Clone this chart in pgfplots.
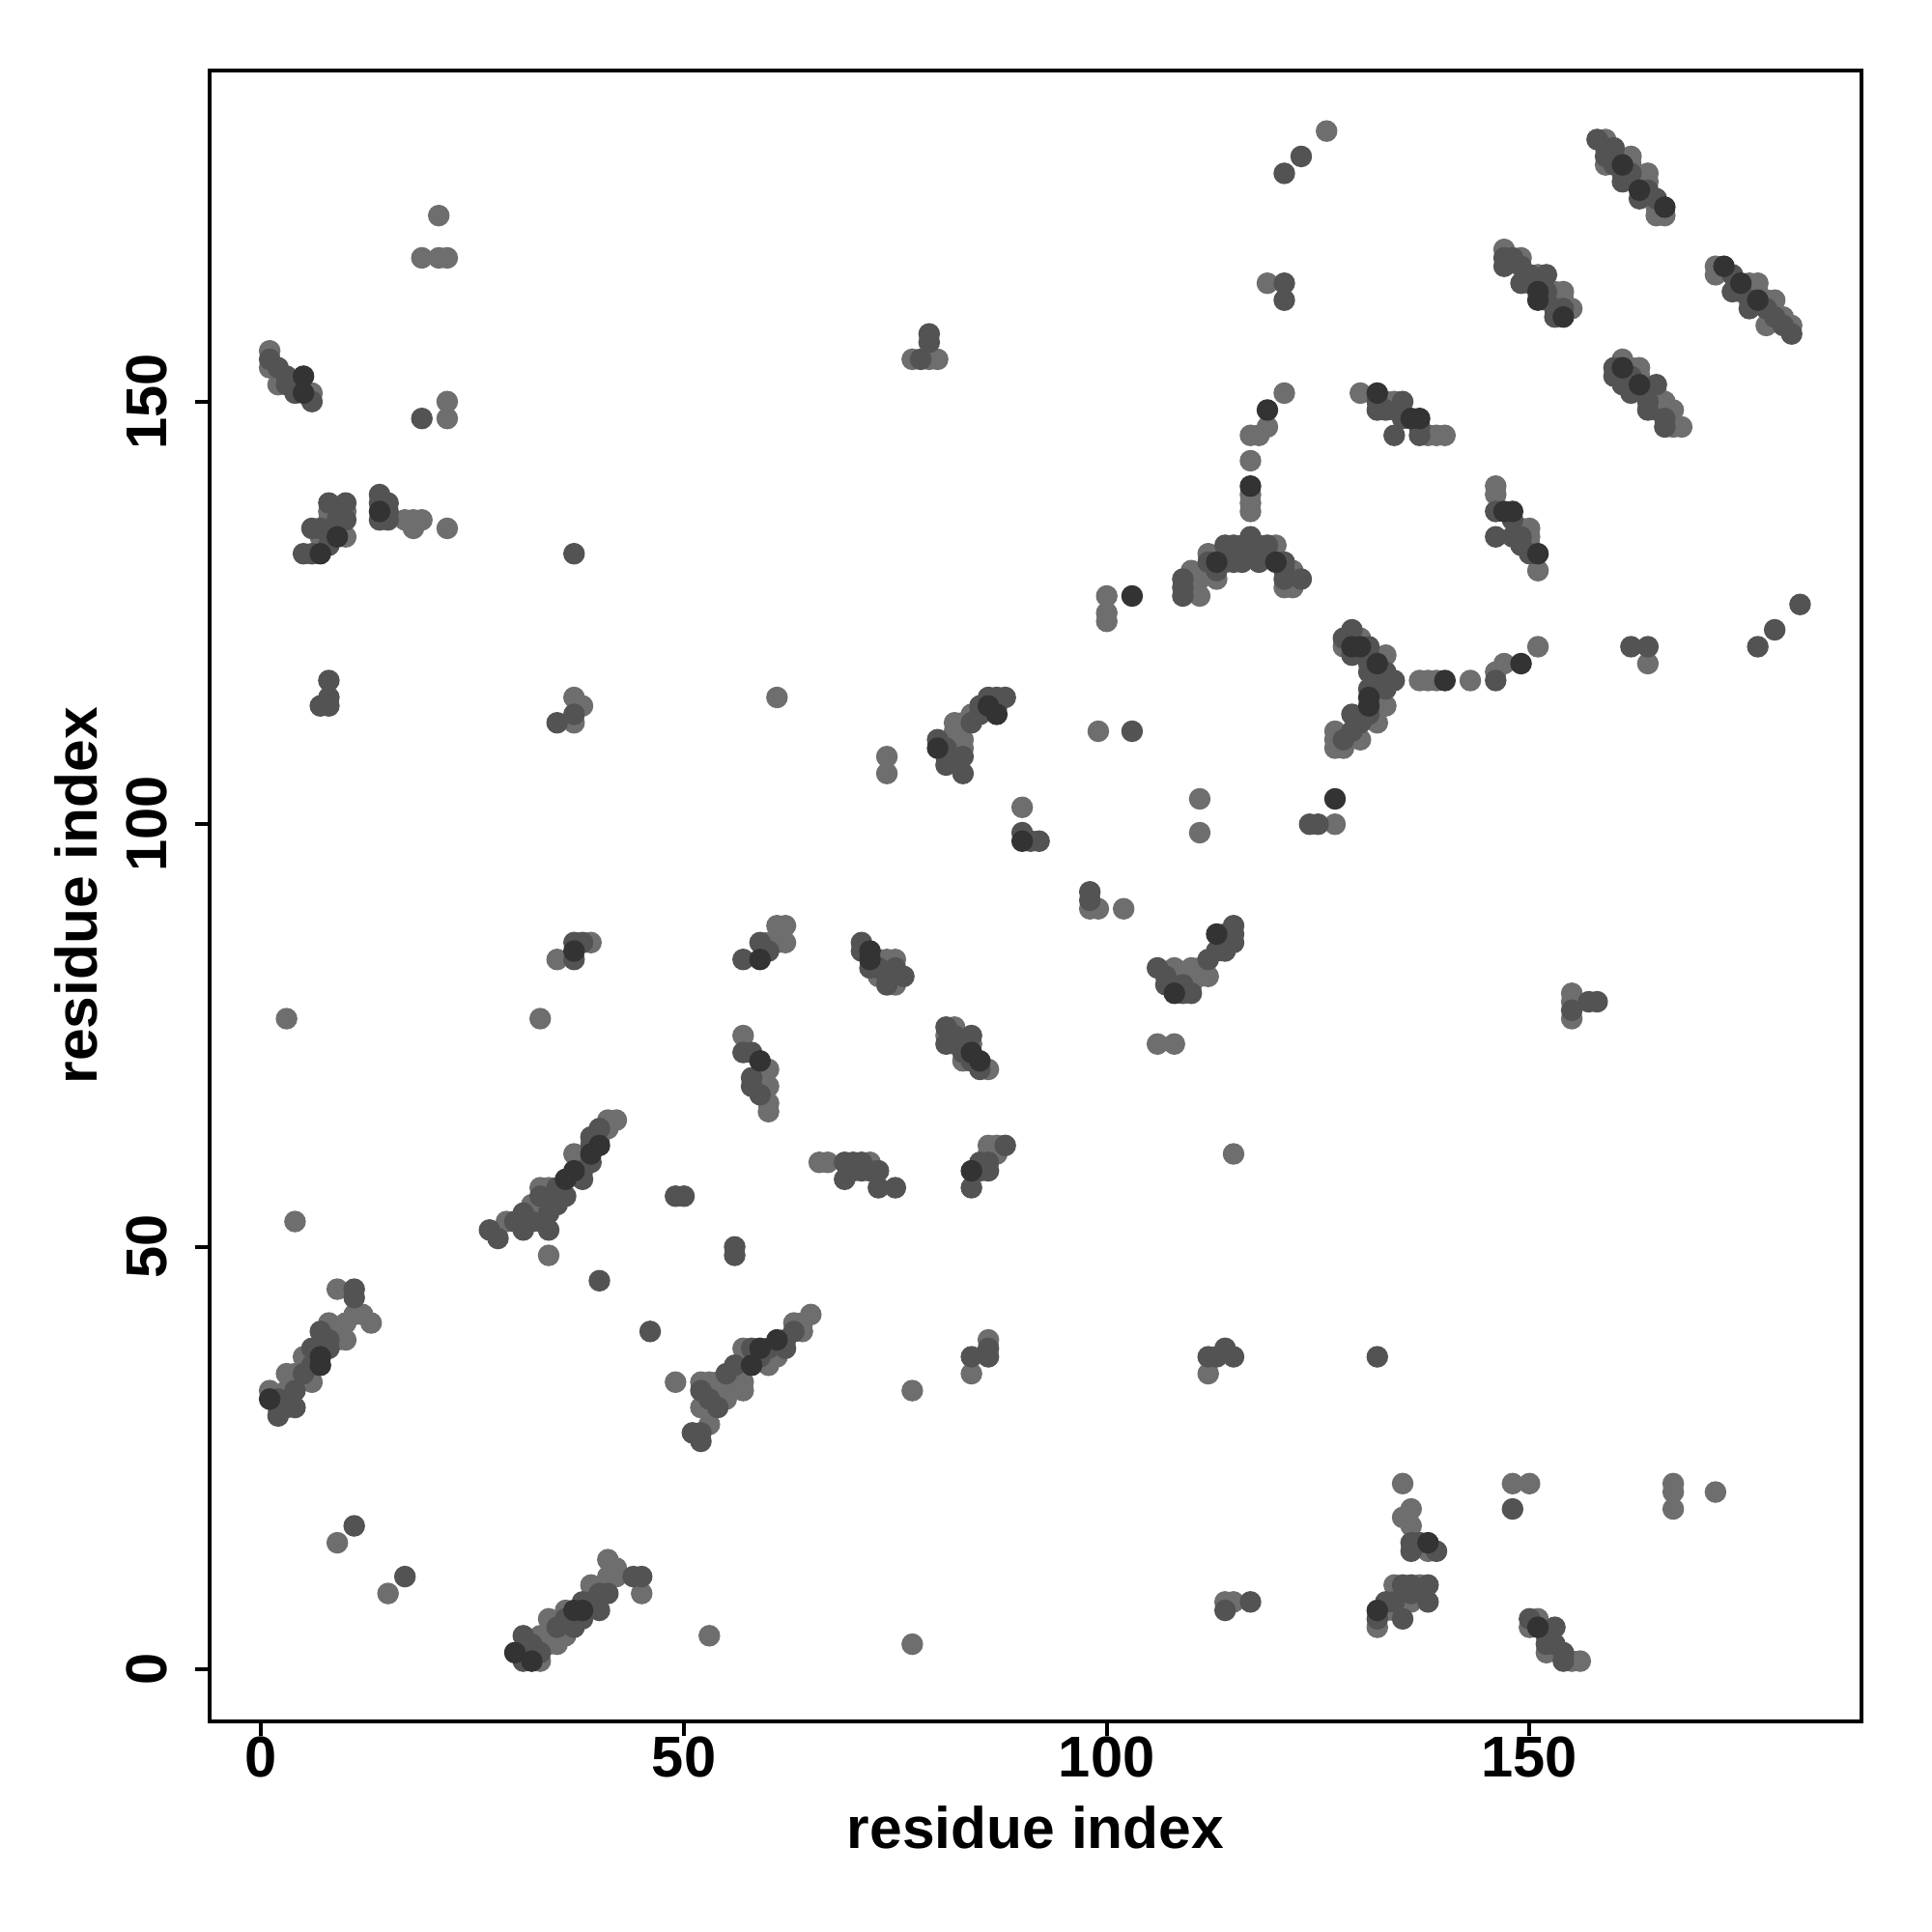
\documentclass[border=0pt]{standalone}
\usepackage{pgfplots}
\pgfplotsset{compat=1.18}
\usepackage{fontspec}
\setmainfont{Liberation Sans}
\definecolor{ptL}{HTML}{6E6E6E}
\definecolor{ptM}{HTML}{535353}
\definecolor{ptD}{HTML}{333333}
\begin{document}
\begin{tikzpicture}
\begin{axis}[
  scale only axis, width=13.41cm, height=13.40cm,
  xmin=-6.12, xmax=189.3, ymin=-6.12, ymax=189.2,
  axis line style={line width=0.9pt},
  xtick={0,50,100,150}, ytick={0,50,100,150},
  xtick pos=left, ytick pos=left,
  tick align=outside, major tick length=0.12cm,
  tick style={line width=0.9pt, black},
  /pgf/number format/assume math mode=true,
  ticklabel style={font=\bfseries\fontsize{13.3}{16}\selectfont},
  xticklabel style={yshift=0.12cm},
  yticklabel style={rotate=90, anchor=south, yshift=0.1cm},
  label style={font=\bfseries\fontsize{13.5}{16}\selectfont},
  xlabel={residue index}, ylabel={residue index},
  xlabel style={at={(axis description cs:0.5,0)}, anchor=center, yshift=-0.86cm},
  ylabel style={at={(axis description cs:-0.0805,0.5)}, anchor=center},
  clip=false,
]
\addplot[only marks, mark=*, mark size=2.3pt, color=ptL] coordinates {
(1,156) (1,154) (2,152) (6,151)
(7,134) (8,137) (8,136) (9,135) (10,137) (10,134)
(17,136) (18,136) (19,136) (18,135)
(21,172) (19,167) (21,167) (22,167) (22,150) (22,148) (22,135)
(39,86) (35,84)
(60,86) (61,88) (62,88) (61,86) (62,86)
(57,75) (59,70) (60,71) (60,69) (60,67) (60,66)
(37,61) (40,63) (41,65) (42,65) (41,64)
(29,53) (32,55) (33,57) (33,55) (34,57) (34,55) (34,49) (35,56) (33,53)
(1,33) (3,33) (3,35) (4,35) (5,37) (6,34) (8,41) (9,45) (9,40) (9,39) (10,41) (10,39) (11,42) (12,42) (13,41)
(49,34) (53,29) (52,34) (52,31) (53,34) (54,34) (54,33) (55,34) (55,32) (56,35) (56,34) (57,38) (57,34) (57,33) (60,36) (61,37) (63,41) (64,40) (65,42) (64,41)
(33,1) (33,4) (34,6) (34,3) (35,3) (36,4) (39,10) (41,13) (41,11) (42,12) (42,11) (45,9) (36,7)
(66,60) (67,60) (72,60)
(86,61) (86,62) (87,61) (87,62)
(73,84) (74,84) (75,84) (75,81) (73,82)
(82,76) (81,75) (82,74) (84,74) (83,72) (86,71)
(82,112) (82,111) (82,110) (82,108) (83,110) (83,109) (83,112) (84,113)
(108,83) (108,82) (109,82) (110,83) (110,81) (111,83) (111,82) (112,82)
(110,130) (110,128) (111,129) (111,127) (112,132) (113,129) (116,133) (118,133) (120,133) (121,128) (122,130) (122,129) (122,128)
(130,122) (128,121) (133,120) (133,114) (132,114) (132,112) (127,111) (127,110) (128,109) (130,110) (127,109)
(137,117) (138,117) (139,117) (143,117) (146,118) (147,119) (151,121)
(146,140) (146,139) (149,135) (150,135) (150,134) (150,133) (151,130)
(130,151) (133,150) (134,149) (138,146) (139,146) (140,146) (134,150)
(147,168) (149,167) (150,164) (151,165) (153,163) (153,162) (154,163) (154,162) (155,161)
(159,181) (159,178) (162,179) (162,178) (163,176) (164,177) (164,176) (165,173) (165,172) (166,172)
(172,166) (172,165) (176,164) (177,164) (178,162) (179,162) (178,159) (181,159) (177,163) (180,160)
(161,155) (162,154) (163,154) (163,153) (164,151) (165,151) (165,149) (166,150) (167,149) (167,147) (168,147)
(135,22) (136,19) (135,18) (136,17) (138,14) (134,10) (137,10) (135,9) (133,7) (132,5) (136,8) (134,7)
(151,6) (152,2) (155,1) (156,1) (150,5)
(155,80) (155,79) (155,77)
(148,22) (150,22) (167,22) (167,21) (167,19) (172,21)
(112,35) (114,8) (115,8)
(98,90) (99,90) (102,90) (90,102) (106,74) (108,74) (115,61) (74,108) (74,106) (61,115)
(77,33) (77,3) (53,4) (84,35) (86,39)
(4,53) (15,9) (3,77) (33,77) (9,15)
(100,127) (100,125) (100,124) (111,103) (111,99) (127,100)
(117,143) (117,139) (117,138) (117,137) (121,151) (119,147) (117,146) (118,146) (119,164) (126,182) (164,119)
(77,155) (79,155) (80,155)
(99,111) (37,115) (38,114) (37,112)
};
\addplot[only marks, mark=*, mark size=2.3pt, color=ptM] coordinates {
(1,155) (2,154) (3,153) (4,151) (6,150) (3,152) (4,152)
(5,132) (6,132) (6,135) (7,135) (8,138) (8,133) (9,136) (10,138) (10,136)
(14,139) (14,138) (15,138) (15,137) (14,136) (15,136)
(37,86) (38,86) (37,84)
(57,84) (59,86) (60,85)
(57,73) (58,73) (58,70) (59,68) (58,69)
(39,60) (38,59) (38,58) (39,62) (40,64) (39,63)
(27,52) (28,51) (31,54) (31,52) (32,53) (34,54) (34,52) (35,55) (36,56) (30,53) (33,56) (35,57)
(2,32) (2,30) (3,31) (4,33) (4,31) (5,35) (6,36) (6,38) (7,40) (8,39) (8,38) (11,45) (11,44) (2,31)
(51,28) (52,27) (52,28) (52,33) (53,32) (54,31) (55,35) (56,36) (58,38) (59,37) (60,38) (62,39) (62,38) (63,40)
(31,1) (31,4) (32,3) (33,2) (35,5) (36,6) (37,5) (38,8) (38,6) (39,8) (40,7) (40,9) (41,9) (44,11) (45,11)
(69,60) (70,60) (71,60) (69,58) (70,59) (71,59) (72,59) (73,59) (73,57) (75,57)
(85,59) (86,59) (84,57) (86,60) (88,62) (85,60)
(71,86) (71,85) (72,83) (73,83) (74,82) (74,81) (76,82) (75,83)
(81,76) (81,74) (82,75) (84,75) (83,73) (85,71) (84,72)
(80,110) (81,109) (81,108) (81,107) (83,108) (83,106) (84,112) (85,114) (85,113) (86,115) (87,115) (87,114) (88,115)
(106,83) (107,82) (107,81) (109,81) (109,80) (110,80) (112,84) (113,85) (114,87) (114,86) (114,85) (115,88) (115,87) (115,86)
(109,129) (109,128) (109,127) (112,131) (113,130) (114,133) (114,131) (115,133) (116,131) (117,134) (117,133) (118,131) (119,133) (121,131) (121,130) (121,129) (123,129) (115,131)
(129,123) (128,122) (131,121) (129,120) (131,120) (131,119) (131,118) (133,118) (134,117) (133,117) (131,116) (133,116) (129,113) (131,113) (129,111) (128,110) (130,112)
(146,117)
(146,137) (148,136) (146,134) (148,134) (149,134) (149,133) (150,132)
(132,150) (132,149) (133,149) (134,146) (135,150) (135,148) (137,147) (137,146)
(147,167) (147,166) (148,167) (149,166) (149,164) (150,165) (151,164) (152,165) (152,163) (152,162) (153,160) (154,161) (153,161)
(158,181) (159,180) (159,179) (160,179) (160,180) (161,177) (161,176) (162,177) (163,174) (164,175) (165,174) (160,178)
(174,165) (174,163) (176,162) (176,161) (178,161) (179,160) (180,159) (181,158) (175,163)
(160,154) (160,153) (161,152) (162,153) (162,151) (164,150) (164,149) (165,152) (166,148) (166,147)
(136,15) (136,14) (137,15) (139,14) (135,10) (136,10) (138,10) (138,8) (136,9) (133,8) (134,8) (132,6) (135,6)
(150,6) (152,4) (153,5) (152,3) (153,3) (154,2) (154,1)
(155,78) (157,79) (158,79)
(148,19) (112,37) (113,37) (114,38) (115,37) (117,8) (114,7) (132,37)
(98,92) (98,91) (90,99) (91,98) (92,98)
(84,37) (86,38) (86,37)
(49,56) (50,56) (56,50) (56,49) (40,46) (46,40)
(11,17) (17,11)
(37,132) (35,112) (37,113) (19,148)
(8,117) (7,114) (8,114) (8,115)
(124,100) (125,100) (121,177) (123,179) (121,164) (121,162) (162,121) (164,121) (177,121) (179,123) (182,126)
(78,155) (79,158) (79,157)
(103,111)
};
\addplot[only marks, mark=*, mark size=2.3pt, color=ptD] coordinates {
(5,153) (5,151) (7,132) (9,134) (14,137) (37,85) (59,84) (59,72) (37,59) (39,61) (40,62) (36,58)
(1,32) (7,37) (7,36) (58,36) (59,38) (61,39) (30,2) (32,1) (37,7) (38,7) (84,59) (72,85) (72,84)
(84,73) (85,72) (80,109) (86,114) (87,113) (108,80) (113,87) (113,131) (120,131) (129,121) (130,121)
(132,119) (131,115) (131,114) (140,117) (149,119) (147,137) (148,137) (151,132) (132,151) (136,148)
(137,148) (151,163) (151,162) (154,160) (161,178) (163,175) (166,173) (173,166) (175,164) (177,162)
(161,154) (163,152) (138,15) (132,7) (151,5) (90,98) (103,127) (127,103) (117,140) (119,149)
};
\end{axis}
\path (current axis.south west) ++(-1.70cm,-1.71cm) coordinate (bbA);
\path (current axis.north east) ++(0.57cm,0.57cm) coordinate (bbB);
\path[use as bounding box] (bbA) rectangle (bbB);
\end{tikzpicture}
\end{document}
